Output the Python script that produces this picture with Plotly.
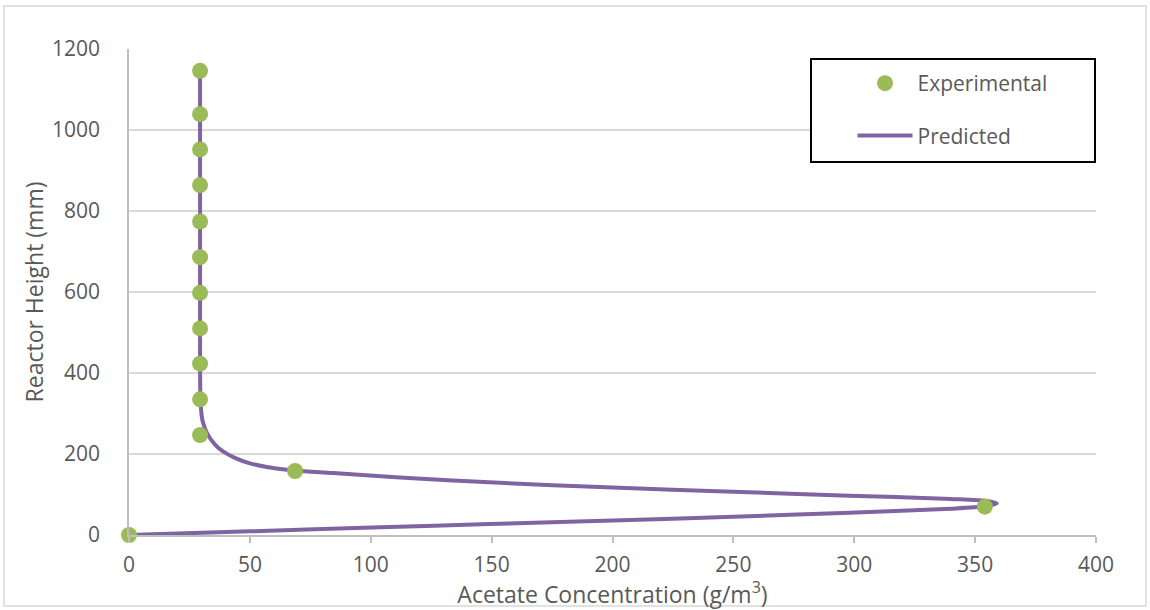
import plotly.graph_objects as go

# Experimental data
exp_conc = [0, 354, 68.7, 29.4, 29.4, 29.4, 29.4, 29.4, 29.4, 29.4, 29.4, 29.4, 29.4, 29.4]
exp_height = [0, 70, 158, 247, 335, 423, 510, 598, 686, 774, 864, 952, 1039, 1146]

# Predicted curve
pred_conc = [0, 50, 104, 149, 200, 250, 298, 340, 354, 359,
             355, 340, 298, 250, 200, 149, 112, 84.5, 68.7, 57, 50, 44, 40.4,
             37, 34, 32, 30.5, 29.8, 29.5, 29.4, 29.4]
pred_height = [0, 9, 19, 27, 36, 45, 55, 65, 71, 78,
               84, 89, 97, 107, 117, 130, 142, 153, 159, 168, 177, 190, 201,
               215, 235, 255, 280, 310, 350, 450, 1150]

x_ticks = [0, 50, 100, 150, 200, 250, 300, 350, 400]
y_ticks = [0, 200, 400, 600, 800, 1000, 1200]

FONT = "Open Sans"
TXT = "#595959"

fig = go.Figure()
fig.add_trace(go.Scatter(
    x=pred_conc, y=pred_height, mode="lines", name="Predicted",
    line=dict(color="#8064A2", width=4, shape="spline", smoothing=0.8),
    legendgroup="pred", legendrank=2, cliponaxis=False))
fig.add_trace(go.Scatter(
    x=exp_conc, y=exp_height, mode="markers", name="Experimental",
    marker=dict(color="#9BBB59", size=16),
    legendgroup="exp", legendrank=1, cliponaxis=False))

fig.update_layout(
    width=1150, height=610,
    margin=dict(l=129, r=54, t=49, b=75),
    paper_bgcolor="white", plot_bgcolor="white",
    font=dict(family=FONT, size=21, color=TXT),
    showlegend=True,
    legend=dict(x=(852.5 - 129) / 967, y=(535 - 63) / 486, xanchor="left", yanchor="top",
                borderwidth=0, bgcolor="rgba(0,0,0,0)", traceorder="grouped",
                font=dict(size=21, color=TXT), tracegroupgap=22,
                itemwidth=55),
    xaxis=dict(range=[0, 400], tickvals=x_ticks, showgrid=False,
               showline=True, linecolor="#BFBFBF", linewidth=1.5,
               ticks="outside", ticklen=6, tickcolor="#BFBFBF", tickwidth=1.5,
               ticklabelstandoff=4, zeroline=False,
               title=dict(text="Acetate Concentration (g/m<sup>3</sup>)", standoff=0,
                          font=dict(size=23, color=TXT))),
    yaxis=dict(range=[0, 1200], tickvals=y_ticks, showgrid=True,
               gridcolor="#D9D9D9", gridwidth=1.5,
               showline=True, linecolor="#BFBFBF", linewidth=1.5,
               ticks="", zeroline=False, ticklabelstandoff=23,
               title=dict(text="Reactor Height (mm)", standoff=2,
                          font=dict(size=23, color=TXT))),
    shapes=[dict(type="rect", xref="paper", yref="paper",
                 x0=-0.1293, x1=1.0517, y0=-0.146, y1=1.0885,
                 line=dict(color="#D9D9D9", width=1.5), layer="below"),
            dict(type="rect", xref="paper", yref="paper",
                 x0=(811 - 129) / 967, x1=(1095 - 129) / 967,
                 y0=(535 - 162) / 486, y1=(535 - 59) / 486,
                 line=dict(color="black", width=2), fillcolor="white", layer="above")],
)

fig.write_html("out.html")
